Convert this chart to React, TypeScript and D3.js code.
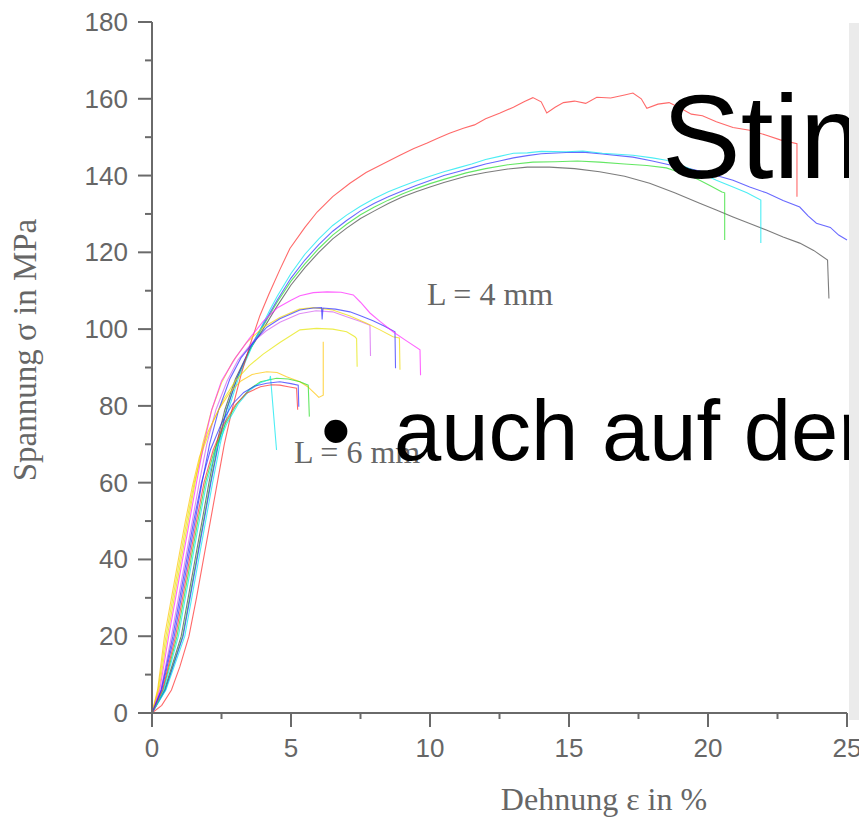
import React from 'react';
import * as d3 from 'd3';

type Pt = [number, number];

const xTicks = [0, 5, 10, 15, 20, 25];
const xMinorTicks = [2.5, 7.5, 12.5, 17.5, 22.5];
const yTicks = [0, 20, 40, 60, 80, 100, 120, 140, 160, 180];
const yMinorTicks = [10, 30, 50, 70, 90, 110, 130, 150, 170];

const xLabel = 'Dehnung ε in %';
const yLabel = 'Spannung σ in MPa';
const groupLabels = ['L = 4 mm', 'L = 6 mm'];
const slideTitle = 'Stim';
const slideBullet = '•';
const slideText = 'auch auf der';

// Group A (long curves)
const redA: Pt[] = [[0,0],[0.35,2],[0.7,6],[1.0,12],[1.33,20],[1.6,30],[1.85,40],[2.1,50],[2.35,60],[2.6,70],[2.88,79],[3.2,88],[3.53,96],[3.88,103.5],[4.2,109],[4.6,115.5],[4.96,121],[5.5,126.5],[5.94,130.5],[6.5,134.5],[7.12,138],[7.7,140.8],[8.3,143],[8.92,145.3],[9.4,147],[9.9,148.5],[10.3,149.8],[10.7,151],[11.2,152.3],[11.6,153.2],[12.0,154.8],[12.5,156.2],[13.0,157.8],[13.4,159.3],[13.7,160.3],[14.0,159.2],[14.2,156.3],[14.5,157.8],[14.8,159],[15.2,159.4],[15.6,158.8],[16.0,160.4],[16.5,160.2],[17.0,161],[17.3,161.5],[17.6,160],[17.8,157.5],[18.2,158.6],[18.6,159],[19.0,157.6],[19.4,156],[19.8,155.6],[20.3,154],[20.9,152.5],[21.5,151.8],[22.1,150.5],[22.6,149.3],[23.2,148.3],[23.2,134.5]];
const cyanA: Pt[] = [[0,0],[0.5,6],[1.18,20],[1.43,30],[1.68,40],[1.93,50],[2.18,60],[2.45,70],[2.75,79],[3.12,87.5],[3.6,95.5],[4.0,101.5],[4.24,105],[4.5,108.5],[5.0,114.5],[5.5,119.5],[6.0,123.5],[6.5,127],[7.0,129.7],[7.5,132],[8.0,134],[8.5,135.8],[9.0,137.2],[9.5,138.6],[10,139.8],[10.5,141],[11,142],[11.5,143],[12,144.2],[12.5,145],[13,145.8],[13.5,145.9],[14,146.3],[14.9,146.2],[15.5,146.4],[16.2,145.8],[17.3,145.3],[18.0,144.6],[18.5,144],[19.0,142.8],[19.5,141.3],[20.0,139.8],[20.3,138.8],[20.9,137],[21.4,135.5],[21.9,133.6],[21.9,122.4]];
const blueA: Pt[] = [[0,0],[0.48,6],[1.12,20],[1.37,30],[1.62,40],[1.87,50],[2.12,60],[2.39,70],[2.69,79],[3.07,87.5],[3.55,95.5],[4.0,101.2],[4.5,107.5],[5.0,113.3],[5.5,118],[6.0,122],[6.5,125.5],[7.0,128.3],[7.5,130.8],[8.0,132.8],[8.5,134.5],[9.0,136],[9.5,137.4],[10,138.7],[10.5,140],[11,141],[11.5,142],[12,143],[12.5,143.8],[13,144.6],[13.5,145.2],[14,145.7],[14.9,146],[15.5,146.1],[16.2,145.6],[17.3,144.8],[18,143.8],[18.6,142.8],[19.2,142],[19.7,141.2],[20.3,140],[20.9,138.8],[21.5,137],[22.1,135.5],[22.7,133.5],[23.3,131.8],[23.6,129.5],[23.9,127.6],[24.4,126.5],[24.7,124.5],[25,123.2]];
const greenA: Pt[] = [[0,0],[0.47,6],[1.1,20],[1.35,30],[1.6,40],[1.85,50],[2.1,60],[2.37,70],[2.67,79],[3.05,87],[3.55,95],[4.0,100.8],[4.5,107],[5.0,112.5],[5.5,117],[6.0,121],[6.5,124.5],[7.0,127.3],[7.5,129.8],[8.0,131.8],[8.5,133.6],[9.0,135.2],[9.5,136.6],[10,137.9],[10.5,139],[11.3,140.7],[12,141.8],[12.8,142.8],[13.7,143.5],[14.5,143.6],[15.3,143.8],[16.1,143.5],[17,143],[17.8,142.6],[18.5,142],[19,140.8],[19.4,139.8],[19.7,138.8],[20.1,137.3],[20.5,135.7],[20.6,135.5],[20.6,123.2]];
const blackA: Pt[] = [[0,0],[0.45,6],[1.05,20],[1.3,30],[1.55,40],[1.8,50],[2.05,60],[2.32,70],[2.62,79],[3.0,87],[3.5,94.5],[4.0,100],[4.5,106],[5.0,111.5],[5.5,116],[6.0,120],[6.5,123.5],[7.0,126.3],[7.5,128.8],[8.0,130.8],[8.5,132.7],[9.0,134.4],[9.5,135.8],[10,137],[10.5,138.2],[11.3,139.8],[12,140.8],[12.8,141.7],[13.5,142.2],[14.3,142.2],[15.2,141.8],[16.1,141],[17,139.8],[17.9,138],[18.8,135.5],[19.7,132.8],[20.3,131],[20.9,129.2],[21.5,127.5],[22.1,125.8],[22.7,124],[23.3,122.4],[23.8,120.5],[24.3,118],[24.35,108]];

// Group B (middle)
const magentaB: Pt[] = [[0,0],[0.28,6],[0.6,20],[0.85,30],[1.1,40],[1.35,50],[1.6,60],[1.86,70],[2.15,79],[2.5,86.5],[3.0,92.5],[3.5,97.5],[4.0,102],[4.5,105.5],[5.0,107.5],[5.32,108.7],[5.8,109.5],[6.3,109.7],[6.8,109.6],[7.24,108.9],[7.5,107],[7.84,104.2],[8.2,102],[8.67,99.3],[9.1,97.2],[9.64,94.6],[9.66,88]];
const yellowB1: Pt[] = [[0,0],[0.25,6],[0.55,20],[0.8,30],[1.05,40],[1.3,50],[1.55,60],[1.82,70],[2.15,79],[2.5,86],[2.9,91.5],[3.4,96.5],[4.0,100.5],[4.6,103],[5.3,105.2],[5.8,105.6],[6.5,105],[7.1,103.5],[7.72,101.5],[8.2,99.8],[8.67,98],[8.9,97.7],[8.92,89.4]];
const violetB: Pt[] = [[0,0],[0.32,6],[0.7,20],[0.95,30],[1.2,40],[1.45,50],[1.7,60],[1.97,70],[2.3,79],[2.7,86.5],[3.1,92],[3.6,96.5],[4.1,99.5],[4.6,101.8],[5.3,104],[5.9,104.8],[6.5,104.5],[7.0,103.2],[7.5,102],[7.84,101],[7.86,93]];
const blueB: Pt[] = [[0,0],[0.35,6],[0.8,20],[1.05,30],[1.3,40],[1.55,50],[1.8,60],[2.07,70],[2.4,79],[2.8,87],[3.2,92.5],[3.7,97],[4.13,100.5],[4.6,102.7],[5.32,105],[5.8,105.5],[6.1,105.6],[6.12,102.5],[6.15,105.5],[6.6,105.2],[7.12,104.5],[7.5,103.5],[7.95,102.2],[8.35,100.8],[8.74,99.3],[8.76,89.8]];
const yellowB2: Pt[] = [[0,0],[0.22,6],[0.5,20],[0.75,30],[1.0,40],[1.25,50],[1.52,60],[1.85,69],[2.2,76],[2.6,82],[3.0,86.5],[3.5,90.5],[4.0,93.5],[4.6,96.5],[5.32,99.8],[5.92,100.2],[6.5,100],[7.0,99.3],[7.3,98],[7.36,97.5],[7.38,90.2]];

// Group C (short curves)
const orangeC: Pt[] = [[0,0],[0.2,6],[0.45,20],[0.7,30],[0.95,40],[1.2,50],[1.45,59],[1.7,66.5],[2.0,73],[2.4,79],[2.8,83.5],[3.2,86.5],[3.6,88.2],[4.13,88.9],[4.5,88.7],[4.84,87.6],[5.32,86.3],[5.6,85],[5.92,82.8],[6.0,82.2],[6.16,82.8],[6.16,96.7]];
const blueC: Pt[] = [[0,0],[0.33,6],[0.75,20],[1.0,30],[1.25,40],[1.5,50],[1.78,60],[2.1,68.5],[2.5,75.5],[2.9,80.5],[3.3,83.5],[3.7,85.2],[4.13,85.9],[4.6,86.3],[5.0,85.8],[5.26,85.4],[5.28,79.8]];
const greenC: Pt[] = [[0,0],[0.4,6],[0.9,20],[1.15,30],[1.4,40],[1.65,50],[1.92,60],[2.25,68.5],[2.65,75.5],[3.05,80.5],[3.5,84.3],[3.9,86.3],[4.48,87.2],[4.9,87],[5.32,86.3],[5.62,85.4],[5.66,77.2]];
const redC: Pt[] = [[0,0],[0.38,6],[0.85,20],[1.1,30],[1.35,40],[1.6,50],[1.87,60],[2.2,68.5],[2.6,75.5],[3.0,80.3],[3.4,83.3],[3.9,85],[4.3,85.5],[4.6,85.4],[4.9,85],[5.2,84.6],[5.24,79]];
const cyanC: Pt[] = [[0,0],[0.42,6],[0.95,20],[1.2,30],[1.45,40],[1.7,50],[1.97,60],[2.3,68.5],[2.7,75.5],[3.1,80.5],[3.5,84],[3.9,86],[4.24,86.9],[4.26,87.8],[4.48,68.5]];

const series: { data: Pt[]; color: string }[] = [
  { data: blackA, color: '#444444' },
  { data: greenA, color: '#22dd22' },
  { data: blueA, color: '#2a2aff' },
  { data: cyanA, color: '#00e6f0' },
  { data: redA, color: '#ff2a2a' },
  { data: yellowB2, color: '#e6e600' },
  { data: violetB, color: '#d35cf0' },
  { data: yellowB1, color: '#f0d800' },
  { data: blueB, color: '#2a2aff' },
  { data: magentaB, color: '#ff22ff' },
  { data: orangeC, color: '#ffc400' },
  { data: greenC, color: '#22dd22' },
  { data: cyanC, color: '#00e6f0' },
  { data: redC, color: '#ff2a2a' },
  { data: blueC, color: '#2a2aff' },
];

const W = 859;
const H = 818;

export default function App() {
  const x = d3.scaleLinear().domain([0, 25]).range([152, 847]);
  const y = d3.scaleLinear().domain([0, 180]).range([713, 22]);
  const line = d3
    .line<Pt>()
    .x((d) => x(d[0]))
    .y((d) => y(d[1]));
  const axisColor = '#6a6a6a';
  const textColor = '#666666';
  return (
    <svg
      width={W}
      height={H}
      style={{ position: 'absolute', left: 0, top: 0, background: '#fff' }}
    >
      <rect x={0} y={0} width={W} height={H} fill="#ffffff" />
      {/* curves */}
      <g fill="none" strokeWidth={1.1} strokeOpacity={0.7}>
        {series.map((s, i) => (
          <path key={i} d={line(s.data) || ''} stroke={s.color} />
        ))}
      </g>
      {/* axes */}
      <g stroke={axisColor} strokeWidth={2}>
        <line x1={x(0)} x2={x(0)} y1={y(180)} y2={y(0)} />
        <line x1={x(0)} x2={x(25)} y1={y(0)} y2={y(0)} />
        {yTicks.map((t) => (
          <line key={'yt' + t} x1={x(0) - 14} x2={x(0)} y1={y(t)} y2={y(t)} />
        ))}
        {yMinorTicks.map((t) => (
          <line key={'ym' + t} x1={x(0) - 7} x2={x(0)} y1={y(t)} y2={y(t)} />
        ))}
        {xTicks.map((t) => (
          <line key={'xt' + t} x1={x(t)} x2={x(t)} y1={y(0)} y2={y(0) + 14} />
        ))}
        {xMinorTicks.map((t) => (
          <line key={'xm' + t} x1={x(t)} x2={x(t)} y1={y(0)} y2={y(0) + 6} />
        ))}
      </g>
      <g fill={textColor} fontFamily="'Liberation Sans', Arial, sans-serif" fontSize={26}>
        {yTicks.map((t) => (
          <text key={'yl' + t} x={x(0) - 24} y={y(t)} textAnchor="end" dominantBaseline="central">
            {t}
          </text>
        ))}
        {xTicks.map((t) => (
          <text key={'xl' + t} x={x(t)} y={y(0) + 44} textAnchor="middle">
            {t}
          </text>
        ))}
      </g>
      <g fill={textColor} fontFamily="'Liberation Serif', 'Times New Roman', serif" fontSize={32}>
        <text x={604} y={810} textAnchor="middle">{xLabel}</text>
        <text transform="translate(36,350) rotate(-90)" textAnchor="middle" fontSize={33}>
          {yLabel}
        </text>
        <text x={427} y={305}>{groupLabels[0]}</text>
        <text x={294} y={463}>{groupLabels[1]}</text>
      </g>
      {/* slide overlay */}
      <g fill="#000" fontFamily="'Liberation Sans', Arial, sans-serif">
        <text x={662} y={178} fontSize={118}>{slideTitle}</text>
        <text x={321} y={460} fontSize={85}>{slideBullet}</text>
        <text x={394} y={460} fontSize={85}>{slideText}</text>
      </g>
      <rect x={849} y={23} width={12} height={697} fill="#ebebeb" />
    </svg>
  );
}
